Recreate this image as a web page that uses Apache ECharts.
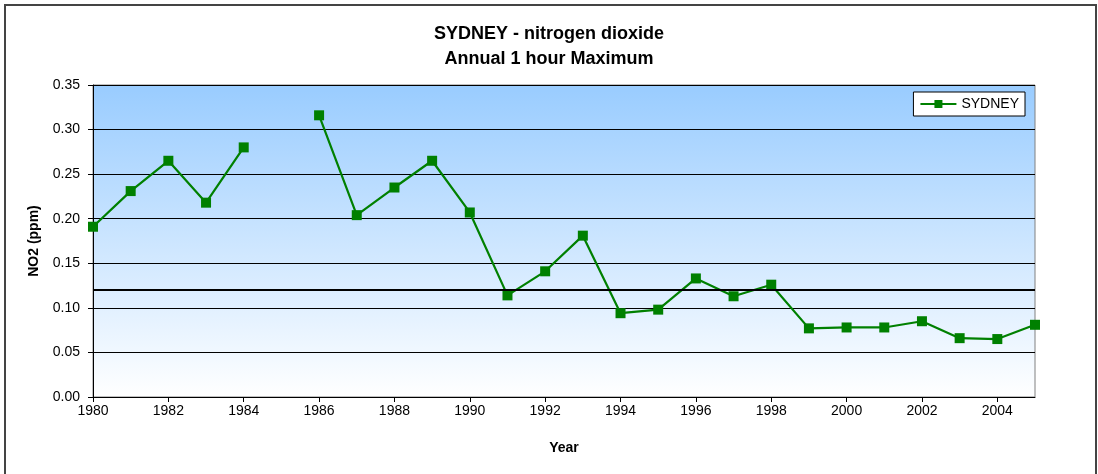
<!DOCTYPE html>
<html>
<head>
<meta charset="utf-8">
<script src="https://cdn.jsdelivr.net/npm/echarts@6/dist/echarts.min.js"></script>
<style>
  html, body { margin: 0; padding: 0; background: #fff; }
  #chart { width: 1098px; height: 474px; }
</style>
</head>
<body>
<div id="chart"></div>
<script>
// Annual 1-hour maximum NO2 readings for Sydney (ppm); 1985 has no reading
const years = [1980, 1981, 1982, 1983, 1984, 1985, 1986, 1987, 1988, 1989, 1990,
  1991, 1992, 1993, 1994, 1995, 1996, 1997, 1998, 1999, 2000, 2001, 2002, 2003, 2004, 2005];
const sydney = [0.191, 0.231, 0.265, 0.218, 0.280, null, 0.316, 0.204, 0.235, 0.265, 0.207,
  0.114, 0.141, 0.181, 0.094, 0.098, 0.133, 0.113, 0.126, 0.077, 0.078, 0.078, 0.085, 0.066, 0.065, 0.081];
// Labelled years along the x axis
const yearTicks = [1980, 1982, 1984, 1986, 1988, 1990, 1992, 1994, 1996, 1998, 2000, 2002, 2004];
// Reference standard level drawn across the plot
const standardLevel = 0.12;

const chart = echarts.init(document.getElementById('chart'));
const font = 'Liberation Sans, Arial, sans-serif';

chart.setOption({
  animation: false,
  textStyle: { fontFamily: font },
  title: {
    text: 'SYDNEY - nitrogen dioxide\nAnnual 1 hour Maximum',
    left: 'center',
    top: 17,
    textStyle: { fontFamily: font, fontSize: 18, fontWeight: 'bold', color: '#000', lineHeight: 25 }
  },
  graphic: [{
    // chart-area frame, open at the bottom edge of the page
    type: 'rect',
    shape: { x: 5, y: 5, width: 1091, height: 480 },
    style: { fill: 'none', stroke: '#444', lineWidth: 2 },
    silent: true,
    z: -1
  }],
  legend: {
    right: 73,
    top: 92,
    padding: [5, 6, 5, 6],
    backgroundColor: '#fff',
    borderColor: '#000',
    borderWidth: 1,
    itemWidth: 36,
    itemHeight: 10,
    itemGap: 4,
    textStyle: { fontFamily: font, fontSize: 14, color: '#000' },
    data: ['SYDNEY']
  },
  grid: {
    left: 93,
    right: 63,
    top: 85,
    bottom: 77,
    show: true,
    borderColor: '#808080',
    borderWidth: 1,
    backgroundColor: new echarts.graphic.LinearGradient(0, 0, 0, 1, [
      { offset: 0, color: '#99CCFF' },
      { offset: 1, color: '#FFFFFF' }
    ])
  },
  xAxis: {
    type: 'value',
    min: 1980,
    max: 2005,
    interval: 2,
    name: 'Year',
    nameLocation: 'middle',
    nameGap: 44,
    nameTextStyle: { fontFamily: font, fontSize: 14, fontWeight: 'bold', color: '#000' },
    axisLine: { lineStyle: { color: '#000', width: 1 } },
    axisTick: { show: true, length: 5, lineStyle: { color: '#000' }, customValues: yearTicks },
    axisLabel: {
      fontFamily: font, fontSize: 14, color: '#000', margin: 7,
      customValues: yearTicks,
      formatter: v => String(v)
    },
    splitLine: { show: false }
  },
  yAxis: {
    type: 'value',
    min: 0,
    max: 0.35,
    interval: 0.05,
    name: 'NO2 (ppm)',
    nameLocation: 'middle',
    nameRotate: 90,
    nameGap: 52,
    nameTextStyle: { fontFamily: font, fontSize: 14, fontWeight: 'bold', color: '#000' },
    axisLine: { show: true, lineStyle: { color: '#000', width: 1 } },
    axisTick: { show: true, length: 5, lineStyle: { color: '#000' } },
    axisLabel: {
      fontFamily: font, fontSize: 14, color: '#000', margin: 13,
      formatter: v => v.toFixed(2)
    },
    splitLine: { show: true, lineStyle: { color: '#000', width: 1 } }
  },
  series: [{
    name: 'SYDNEY',
    type: 'line',
    data: years.map((y, i) => [y, sydney[i] === null ? '-' : sydney[i]]),
    connectNulls: false,
    symbol: 'rect',
    symbolSize: 10,
    lineStyle: { color: '#008000', width: 2.2 },
    itemStyle: { color: '#008000' },
    markLine: {
      silent: true,
      symbol: 'none',
      label: { show: false },
      lineStyle: { color: '#000', width: 2, type: 'solid' },
      data: [{ yAxis: standardLevel }]
    },
    z: 3
  }]
});
</script>
</body>
</html>
